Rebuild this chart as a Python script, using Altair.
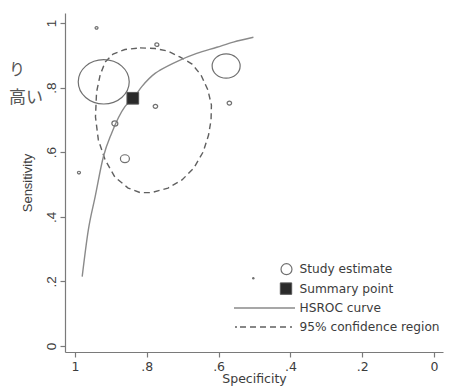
import altair as alt
import pandas as pd

# ---------------- data ----------------
study_spec = [0.920, 0.579, 0.861, 0.889, 0.940, 0.989, 0.772, 0.776, 0.570]
study_sens = [0.818, 0.867, 0.580, 0.689, 0.985, 0.537, 0.933, 0.742, 0.752]
study_weight = [51, 28, 9, 6, 3, 3, 4, 4.5, 4.5]

summary_spec = [0.839]
summary_sens = [0.767]

hsroc_spec = [0.980, 0.963, 0.944, 0.921, 0.898, 0.861, 0.838, 0.814, 0.777,
              0.763, 0.712, 0.661, 0.605, 0.559, 0.503]
hsroc_sens = [0.215, 0.359, 0.462, 0.586, 0.659, 0.741, 0.767, 0.803, 0.844,
              0.854, 0.883, 0.906, 0.925, 0.941, 0.956]

conf_spec = [0.819, 0.777, 0.741, 0.708, 0.674, 0.649, 0.630, 0.620, 0.621,
             0.628, 0.643, 0.669, 0.702, 0.741, 0.786, 0.819, 0.852, 0.889,
             0.916, 0.935, 0.943, 0.940, 0.930, 0.916, 0.894, 0.861, 0.819]
conf_sens = [0.923, 0.921, 0.913, 0.895, 0.873, 0.839, 0.793, 0.746, 0.700,
             0.653, 0.601, 0.551, 0.514, 0.489, 0.475, 0.475, 0.489, 0.523,
             0.576, 0.638, 0.709, 0.786, 0.839, 0.879, 0.904, 0.918, 0.923]

tick_values = [0, 0.2, 0.4, 0.6, 0.8, 1]
tick_labels = ["0", ".2", ".4", ".6", ".8", "1"]

legend_labels = ["Study estimate", "Summary point", "HSROC curve", "95% confidence region"]
side_text = ["り", "高い"]

# ---------------- styling ----------------
HFONT = "DejaVu Sans"       # horizontal texts (reference is slightly stretched)
VFONT = "Liberation Sans"   # vertical texts
GRAY = "#7a7a7a"
TXT = "#3c3c3c"
ELLIPSE = "M-1,0A1,0.87,0,1,1,1,0A1,0.87,0,1,1,-1,0Z"

label_expr = "".join(
    f"abs(datum.value - {v}) < 0.01 ? '{l}' : " for v, l in zip(tick_values, tick_labels)
) + "''"

xscale = alt.Scale(domain=[-0.0251, 1.0279], reverse=True, nice=False, zero=False)
yscale = alt.Scale(domain=[-0.0186, 1.031], nice=False, zero=False)

xaxis = alt.Axis(values=tick_values, labelExpr=label_expr, title="Specificity",
                 grid=False, tickSize=5, labelPadding=3, titlePadding=0,
                 labelFont=HFONT, labelFontSize=12.5, titleFont=HFONT, titleFontSize=12.5)
yaxis = alt.Axis(values=tick_values, labelExpr=label_expr, title="Sensitivity",
                 grid=False, tickSize=5, labelAngle=270, labelAlign="center",
                 labelBaseline="bottom", labelPadding=2, titlePadding=10,
                 labelFont=VFONT, labelFontSize=13.5, titleFont=VFONT, titleFontSize=13)

studies = pd.DataFrame({"spec": study_spec, "sens": study_sens, "weight": study_weight})
summary = pd.DataFrame({"spec": summary_spec, "sens": summary_sens})
hsroc = pd.DataFrame({"spec": hsroc_spec, "sens": hsroc_sens, "o": range(len(hsroc_spec))})
conf = pd.DataFrame({"spec": conf_spec, "sens": conf_sens, "o": range(len(conf_spec))})

base_x = alt.X("spec:Q", scale=xscale, axis=xaxis)
base_y = alt.Y("sens:Q", scale=yscale, axis=yaxis)

conf_layer = alt.Chart(conf).mark_line(color="#606060", strokeWidth=1.4,
                                       strokeDash=[6, 4]).encode(
    x=base_x, y=base_y, order="o:Q")

hsroc_layer = alt.Chart(hsroc).mark_line(color="#8a8a8a", strokeWidth=1.4,
                                         interpolate="monotone").encode(
    x=base_x, y=base_y, order="o:Q")

study_layer = alt.Chart(studies).mark_point(shape=ELLIPSE, filled=False,
                                            color="#707070", strokeWidth=1.2,
                                            opacity=1).encode(
    x=base_x, y=base_y,
    size=alt.Size("weight:Q", legend=None,
                  scale=alt.Scale(type="pow", exponent=2, domain=[0, 51], range=[0, 2601])))

summary_layer = alt.Chart(summary).mark_point(shape="square", filled=True, size=137,
                                              color="#2a2a2a", stroke="#555555",
                                              strokeWidth=1, opacity=1).encode(
    x=base_x, y=base_y)

# ---------------- manual legend ----------------
leg_rows = [256.2, 275.6, 295.0, 314.0]
one = pd.DataFrame({"a": [0]})
leg = []
leg.append(alt.Chart(one).mark_point(shape="circle", filled=False, size=120,
                                     color="#707070", strokeWidth=1.2, opacity=1).encode(
    x=alt.value(221.5), y=alt.value(leg_rows[0])))
leg.append(alt.Chart(one).mark_point(shape="circle", filled=True, size=6,
                                     color="#707070", opacity=1).encode(
    x=alt.value(188.3), y=alt.value(265.3)))
leg.append(alt.Chart(one).mark_point(shape="square", filled=True, size=130,
                                     color="#2a2a2a", stroke="#555555",
                                     strokeWidth=1, opacity=1).encode(
    x=alt.value(221), y=alt.value(leg_rows[1])))
leg.append(alt.Chart(one).mark_rule(color="#8a8a8a", strokeWidth=1.4).encode(
    x=alt.value(169), x2=alt.value(230), y=alt.value(leg_rows[2])))
leg.append(alt.Chart(one).mark_rule(color="#606060", strokeWidth=1.4,
                                    strokeDash=[2, 3, 6, 4, 6, 4, 6, 4, 6, 4, 6, 4]).encode(
    x=alt.value(170), x2=alt.value(230), y=alt.value(leg_rows[3])))
for lab, yy in zip(legend_labels, leg_rows):
    leg.append(alt.Chart(one).mark_text(text=lab, align="left", baseline="middle",
                                        font=HFONT, fontSize=12.2, color=TXT).encode(
        x=alt.value(234.5), y=alt.value(yy)))

# side text (cut-off Japanese annotation on the left)
leg.append(alt.Chart(one).mark_text(text=side_text[0], align="center", baseline="middle",
                                    font="Noto Sans CJK JP", fontSize=16, color="#555555").encode(
    x=alt.value(-48), y=alt.value(57)))
leg.append(alt.Chart(one).mark_text(text=side_text[1], align="right", baseline="middle",
                                    font="Noto Sans CJK JP", fontSize=17, color="#555555").encode(
    x=alt.value(-22), y=alt.value(85)))

chart = alt.layer(conf_layer, hsroc_layer, study_layer, summary_layer, *leg).properties(
    width=378, height=339,
    autosize=alt.AutoSizeParams(type="none"),
    padding={"left": 57, "top": 5, "right": 1, "bottom": 34},
    background="white",
).configure_view(stroke=None).configure_axis(
    domainColor=GRAY, tickColor=GRAY, labelColor=TXT, titleColor=TXT,
    titleFontWeight="normal", domainWidth=1.2, tickWidth=1.2,
)

chart.save("out.html", embed_options={"renderer": "svg", "actions": False})
